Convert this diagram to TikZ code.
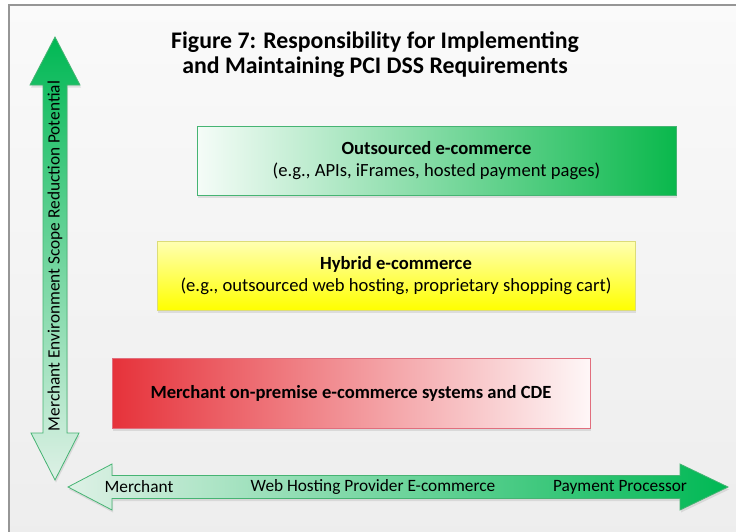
\documentclass[tikz,border=0pt]{standalone}
\usepackage{fontspec}
\setmainfont{Carlito}
\usepackage{tikz}
\usetikzlibrary{shadows}
\usetikzlibrary{positioning}

\definecolor{arrowgreen}{RGB}{0,184,84}
\definecolor{palegreen}{RGB}{222,241,230}
\definecolor{edgegreen}{RGB}{70,180,115}
\definecolor{outgreen}{RGB}{10,184,76}
\definecolor{boxred}{RGB}{230,50,58}
\definecolor{edgered}{RGB}{225,110,125}
\definecolor{edgeyellow}{RGB}{220,220,120}
\definecolor{framegray}{RGB}{150,150,150}

\begin{document}
\begin{tikzpicture}[x=1pt, y=-1pt,
  txt/.style={font=\fontsize{18.6}{22.5}\selectfont, align=center},
  axistxt/.style={font=\fontsize{17.3}{20}\selectfont},
  levelbox/.style={txt, draw, minimum height=69pt, minimum width=478pt, inner sep=0pt,
    drop shadow={opacity=0.2, shadow xshift=1pt, shadow yshift=-2.5pt}},
  axisarrow/.style={draw=edgegreen, line width=0.8pt, line join=miter,
    drop shadow={opacity=0.2, shadow xshift=1pt, shadow yshift=-2.5pt}}]
  \useasboundingbox (0,0) rectangle (736,531);
  % frame
  \path[top color=white!98!black, bottom color=white!93!black,
    draw=framegray, line width=1.5pt] (9,5) rectangle (745,540);

  \node[font=\bfseries\fontsize{23.8}{25}\selectfont, align=center] (title) at (375,55)
    {Figure 7: Responsibility for Implementing\\and Maintaining PCI DSS Requirements};

  % vertical axis
  \path[axisarrow, top color=arrowgreen, bottom color=palegreen]
    (55,37) -- (80,85) -- (67,85) -- (67,433) -- (79,433) -- (55,480)
    -- (31,433) -- (43,433) -- (43,85) -- (30,85) -- cycle;
  \node[axistxt, rotate=90] (scope) at (55,256) {Merchant Environment Scope Reduction Potential};

  % horizontal axis
  \path[axisarrow, left color=palegreen, right color=arrowgreen]
    (68,487) -- (112,464) -- (112,475.5) -- (680,475.5) -- (680,464) -- (728,487)
    -- (680,510) -- (680,498.5) -- (112,498.5) -- (112,510) -- cycle;
  \node[axistxt] (merchant) at (139,487) {Merchant};
  \node[axistxt] (hosting) at (373,487) {Web Hosting Provider E-commerce};
  \node[axistxt] (processor) at (620,487) {Payment Processor};

  % levels
  \node[levelbox, draw=edgegreen, minimum width=479pt,
    left color=outgreen!4!white, middle color=outgreen!45!white, right color=outgreen]
    (outsourced) at (436.5,160.5)
    {\textbf{Outsourced e-commerce}\\(e.g., APIs, iFrames, hosted payment pages)};
  \node[levelbox, draw=edgeyellow,
    top color=yellow!30!white, bottom color=yellow]
    (hybrid) at (396,275.5)
    {\textbf{Hybrid e-commerce}\\(e.g., outsourced web hosting, proprietary shopping cart)};
  \node[levelbox, draw=edgered, minimum height=70pt,
    left color=boxred, middle color=boxred!35!white, right color=boxred!4!white]
    (onpremise) at (351,393)
    {\textbf{Merchant on-premise e-commerce systems and CDE}};
\end{tikzpicture}
\end{document}
